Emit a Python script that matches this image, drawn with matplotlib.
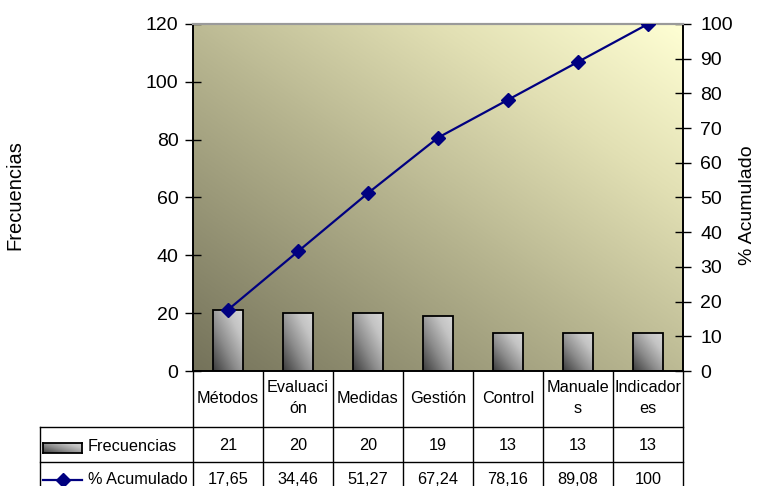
import numpy as np
import matplotlib
matplotlib.use("Agg")
import matplotlib.pyplot as plt
from matplotlib.colors import LinearSegmentedColormap
from matplotlib.lines import Line2D
import matplotlib.transforms as mtransforms

plt.rcParams['font.family'] = ['Liberation Sans', 'DejaVu Sans']

categories = ["Métodos", "Evaluaci\nón", "Medidas", "Gestión", "Control", "Manuale\ns", "Indicador\nes"]
frecuencias = [21, 20, 20, 19, 13, 13, 13]
acumulado = [17.65, 34.46, 51.27, 67.24, 78.16, 89.08, 100]
acumulado_labels = ["17,65", "34,46", "51,27", "67,24", "78,16", "89,08", "100"]
left_ticks = [0, 20, 40, 60, 80, 100, 120]
right_ticks = [0, 10, 20, 30, 40, 50, 60, 70, 80, 90, 100]

W, H = 759, 486
fig = plt.figure(figsize=(W / 100, H / 100), dpi=100)

def fx(px):
    return px / W

def fy(py):
    return 1 - py / H

L, R, T, B = 193, 683, 24, 371
ax = fig.add_axes([fx(L), fy(B), (R - L) / W, (B - T) / H])

# background diagonal gradient
n = 256
gx, gy = np.meshgrid(np.linspace(0, 1, n), np.linspace(0, 1, n))
bg = (gx + gy) / 2
bg_cmap = LinearSegmentedColormap.from_list(
    'bg', [(0, '#74725a'), (0.45, '#b5b38e'), (0.75, '#e2e0b4'), (1, '#ffffd4')])
ax.imshow(bg, extent=[0, 1, 0, 1], transform=ax.transAxes, origin='lower',
          cmap=bg_cmap, aspect='auto', zorder=0, interpolation='bilinear')

bar_cmap = LinearSegmentedColormap.from_list(
    'bar', [(0, '#3c3c3c'), (0.4, '#8c8c8c'), (0.75, '#c4c4c4'), (1, '#d6d6d6')])
x = np.arange(len(categories))
bw = 0.42
bars = ax.bar(x, frecuencias, width=bw, facecolor='none', edgecolor='black',
              linewidth=1.3, zorder=3)
for b in bars:
    x0 = b.get_x()
    im = ax.imshow(bg, extent=[x0, x0 + b.get_width(), 0, b.get_height()], origin='lower',
                   cmap=bar_cmap, aspect='auto', zorder=2, interpolation='bilinear')
    im.set_clip_path(b)

ax.set_xlim(-0.5, len(categories) - 0.5)
ax.set_ylim(0, 120)
ax.set_yticks(left_ticks)
ax.set_xticks([])
ax.tick_params(axis='y', direction='inout', length=11, width=1, labelsize=14, pad=5)

ax2 = ax.twinx()
ax2.plot(x, acumulado, color='#000080', marker='D', markersize=7, linewidth=1.6, zorder=4)
ax2.set_ylim(0, 100)
ax2.set_yticks(right_ticks)
ax2.tick_params(axis='y', direction='inout', length=11, width=1, labelsize=14, pad=7)
ax2.set_xlim(-0.5, len(categories) - 0.5)

for a in (ax, ax2):
    a.spines['top'].set_color('#9a9a9a')
    a.spines['top'].set_linewidth(1.5)
    a.spines['left'].set_color('black')
    a.spines['right'].set_color('black')
    a.spines['bottom'].set_color('black')
    a.spines['left'].set_linewidth(1.2)
    a.spines['right'].set_linewidth(1.2)
    a.spines['bottom'].set_linewidth(1.2)

fig.text(fx(15), fy(195), 'Frecuencias', rotation=90, ha='center', va='center', fontsize=14.5)
fig.text(fx(748), fy(205), '% Acumulado', rotation=90, ha='center', va='center', fontsize=14)

# table
trans = mtransforms.blended_transform_factory(ax.transData, fig.transFigure)
lw = 1.0
for i in range(len(categories) + 1):
    fig.add_artist(Line2D([i - 0.5, i - 0.5], [fy(B), fy(500)], transform=trans,
                          color='black', linewidth=lw))
for yy in (427, 462):
    fig.add_artist(Line2D([fx(40), fx(R)], [fy(yy), fy(yy)], transform=fig.transFigure,
                          color='black', linewidth=lw))
fig.add_artist(Line2D([fx(40), fx(40)], [fy(427), fy(500)], transform=fig.transFigure,
                      color='black', linewidth=lw))

for i, c in enumerate(categories):
    fig.text(i, fy(398), c, transform=trans, ha='center', va='center', fontsize=11.7,
             linespacing=1.45)
    fig.text(i, fy(445), str(frecuencias[i]), transform=trans, ha='center', va='center', fontsize=11.7)
    fig.text(i, fy(479), acumulado_labels[i], transform=trans, ha='center', va='center', fontsize=11.7)

# legend keys in table
lax = fig.add_axes([fx(43), fy(453), fx(82) - fx(43), (453 - 443) / H])
lax.imshow(bg, extent=[0, 1, 0, 1], origin='lower', cmap=bar_cmap, aspect='auto')
lax.set_xticks([])
lax.set_yticks([])
for s in lax.spines.values():
    s.set_linewidth(1.3)
fig.text(fx(88), fy(446), 'Frecuencias', ha='left', va='center', fontsize=11.7)

fig.add_artist(Line2D([fx(43), fx(82)], [fy(480), fy(480)], transform=fig.transFigure,
                      color='#000080', linewidth=1.6))
fig.add_artist(Line2D([fx(62.5)], [fy(480)], transform=fig.transFigure, color='#000080',
                      marker='D', markersize=7, linestyle='none'))
fig.text(fx(88), fy(479), '% Acumulado', ha='left', va='center', fontsize=11.7)

fig.savefig('out.png', dpi=100)
